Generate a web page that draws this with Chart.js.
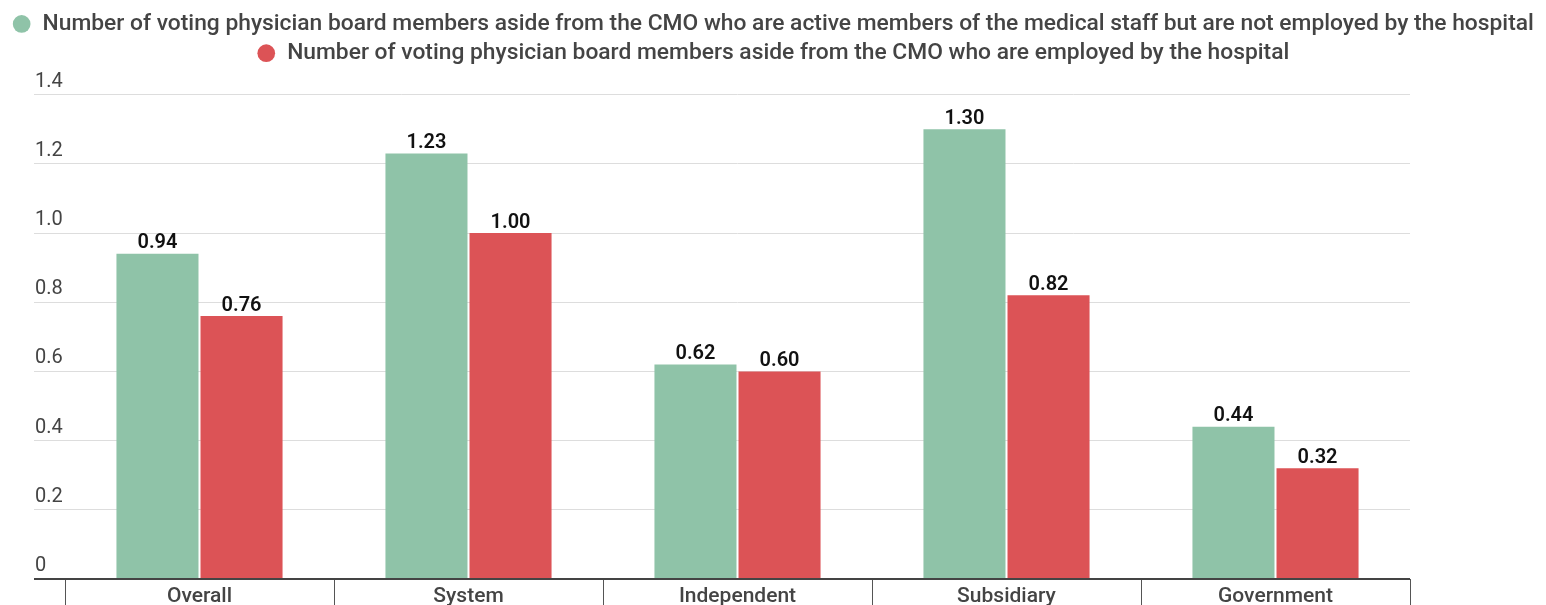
<!DOCTYPE html>
<html>
<head>
<meta charset="utf-8">
<script src="https://cdn.jsdelivr.net/npm/chart.js@4/dist/chart.umd.min.js"></script>
<style>
  html, body { margin: 0; padding: 0; background: #ffffff; }
  #wrap { width: 1546px; height: 605px; }
</style>
</head>
<body>
<div id="wrap"><canvas id="chart" width="1546" height="605"></canvas></div>
<script>
// Hospital board composition by hospital type
const categories = ['Overall', 'System', 'Independent', 'Subsidiary', 'Government'];
const seriesNames = [
  'Number of voting physician board members aside from the CMO who are active members of the medical staff but are not employed by the hospital',
  'Number of voting physician board members aside from the CMO who are employed by the hospital'
];
const notEmployed = [0.94, 1.23, 0.62, 1.30, 0.44];
const employed = [0.76, 1.00, 0.60, 0.82, 0.32];
const yTicks = [0, 0.2, 0.4, 0.6, 0.8, 1.0, 1.2, 1.4];

const FONT = 'Roboto, "Noto Sans", sans-serif';

// Y tick labels sit at the left edge, just above each gridline
const yLabelPlugin = {
  id: 'yLabels',
  afterDraw(chart) {
    const { ctx } = chart;
    const y = chart.scales.y;
    ctx.save();
    ctx.font = '400 20px ' + FONT;
    ctx.fillStyle = '#444444';
    ctx.textAlign = 'left';
    ctx.textBaseline = 'middle';
    yTicks.forEach(v => {
      const label = v === 0 ? '0' : v.toFixed(1);
      ctx.fillText(label, 35, y.getPixelForValue(v) - 13);
    });
    ctx.restore();
  }
};

// Value labels above each bar
const valueLabelPlugin = {
  id: 'valueLabels',
  afterDatasetsDraw(chart) {
    const { ctx } = chart;
    ctx.save();
    ctx.font = '600 20px ' + FONT;
    ctx.fillStyle = '#111111';
    ctx.textAlign = 'center';
    ctx.textBaseline = 'alphabetic';
    chart.data.datasets.forEach((ds, di) => {
      chart.getDatasetMeta(di).data.forEach((bar, i) => {
        ctx.fillText(ds.data[i].toFixed(2), bar.x, bar.y - 5.5);
      });
    });
    ctx.restore();
  }
};

// Extra room under the legend
const legendSpacer = {
  id: 'legendSpacer',
  beforeInit(chart) {
    const fit = chart.legend.fit;
    chart.legend.fit = function () {
      fit.call(this);
      this.height += 20;
    };
  }
};

new Chart(document.getElementById('chart'), {
  type: 'bar',
  data: {
    labels: categories,
    datasets: [
      { label: seriesNames[0], data: notEmployed, backgroundColor: '#8fc3a8', barPercentage: 0.976, categoryPercentage: 0.625 },
      { label: seriesNames[1], data: employed, backgroundColor: '#dc5356', barPercentage: 0.976, categoryPercentage: 0.625 }
    ]
  },
  options: {
    responsive: false,
    animation: false,
    devicePixelRatio: 1,
    layout: { padding: { top: 6, left: 0, right: 0, bottom: 0 } },
    plugins: {
      legend: {
        position: 'top',
        align: 'center',
        labels: {
          usePointStyle: true,
          pointStyle: 'circle',
          boxWidth: 19,
          boxHeight: 12.5,
          padding: 6.5,
          color: '#444444',
          font: { family: FONT, size: 22.8, weight: '500', lineHeight: 1.2 }
        }
      },
      tooltip: { enabled: false }
    },
    scales: {
      x: {
        grid: {
          display: true,
          drawOnChartArea: false,
          offset: true,
          tickLength: 26,
          color: '#555555',
          lineWidth: 1
        },
        border: { display: false },
        ticks: {
          color: '#444444',
          padding: -21,
          font: { family: FONT, size: 21, weight: '500' }
        },
        afterFit(scale) { scale.height = 26; }
      },
      y: {
        min: 0,
        max: 1.4,
        ticks: { stepSize: 0.2, display: false },
        grid: {
          color: ctx => (ctx.tick && ctx.tick.value === 0) ? '#444444' : '#dddddd',
          lineWidth: ctx => (ctx.tick && ctx.tick.value === 0) ? 2 : 1,
          tickLength: 31
        },
        border: { display: false },
        afterFit(scale) { scale.width = 65; }
      },
      // empty right-hand gutter
      gutter: {
        type: 'linear',
        position: 'right',
        display: true,
        ticks: { display: false },
        grid: { display: false },
        border: { display: false },
        afterFit(scale) { scale.width = 136; }
      }
    }
  },
  plugins: [legendSpacer, yLabelPlugin, valueLabelPlugin]
});
</script>
</body>
</html>
